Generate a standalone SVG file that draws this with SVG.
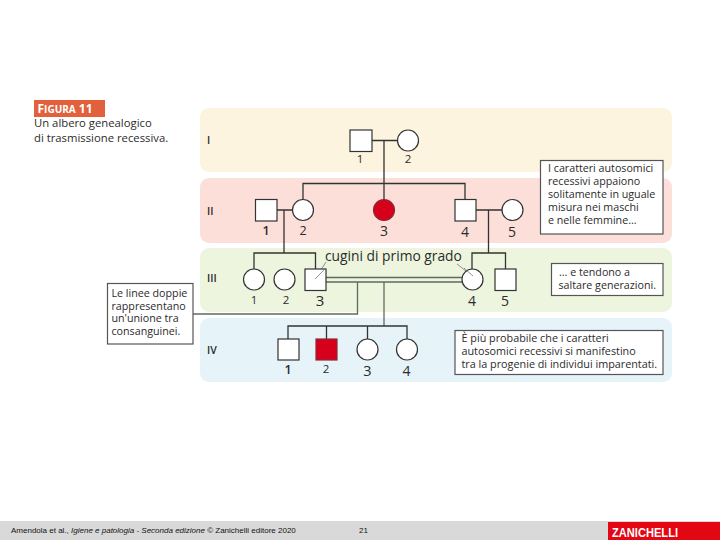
<svg xmlns="http://www.w3.org/2000/svg" width="720" height="540" viewBox="0 0 720 540">
<style>
text{font-family:"Open Sans","Noto Sans",sans-serif;fill:#2b2b2b}
.n{fill:#fff;stroke:#333;stroke-width:1.2}
.a{fill:#d6001c;stroke:#8a2a30;stroke-width:1.2}
.l{fill:none;stroke:#333;stroke-width:1.3}
.p{fill:none;stroke:#777;stroke-width:.8}
.d{fill:none;stroke:#5f6b62;stroke-width:1.3}
.b{fill:#fff;stroke:#555;stroke-width:1.2}
.t{font-size:10.7px}
.c{font-size:10.8px}
.g{font-size:10.5px;font-weight:600}
.num{font-size:12.5px;text-anchor:middle}
.sm{font-size:11.5px;text-anchor:middle}
</style>
<rect width="720" height="540" fill="#fff"/>
<g id="bands">
<rect x="200" y="108" width="472" height="64" rx="9" fill="#fdf4e0"/>
<rect x="200" y="178" width="472" height="65" rx="9" fill="#fddfda"/>
<rect x="200" y="248" width="472" height="64" rx="9" fill="#eef5df"/>
<rect x="200" y="318" width="472" height="64" rx="9" fill="#e6f4fa"/>
<text class="g" x="207" y="144">I</text>
<text class="g" x="207" y="215">II</text>
<text class="g" x="207" y="282">III</text>
<text class="g" x="207" y="354">IV</text>
</g>
<g id="title">
<rect x="34" y="100" width="71" height="17" fill="#e2603c"/>
<text x="37.500" y="113" style="fill:#fff;font-weight:700;font-size:12px">F<tspan font-size="10">IGURA</tspan> 11</text>
<text x="34" y="127" style="font-size:11.300px">Un albero genealogico</text>
<text x="34" y="142" style="font-size:11.300px">di trasmissione recessiva.</text>
</g>
<g id="connectors">
<path class="p" d="M326 262L315 279M457 264L471 275"/>
<path class="l" d="M372 140.500H397.500M384 140.500V199.500M303 199.500V183.500H465V199M277 210H292.500M284 210V253M476 210H502M488.500 210V253M254 269V253H315.500V269M472 269V253H505.500V269"/>
<path class="d" d="M326 277.500H462M326 282H462"/>
<path class="d" d="M384 282V326"/>
<path class="l" d="M288 339V326H407V339M326.500 326V339M367.500 326V339"/>
<path class="d" d="M193 314H357.500V282"/>
</g>
<g id="I-1"><rect class="n" x="350" y="130" width="22" height="21.500"/><text class="sm" x="360" y="163">1</text></g>
<g id="I-2"><circle class="n" cx="408" cy="140.500" r="10.500"/><text class="sm" x="408" y="163">2</text></g>
<g id="II-1"><rect class="n" x="255.500" y="199.500" width="21.500" height="21.500"/><text class="num" x="266" y="235" style="font-weight:600">1</text></g>
<g id="II-2"><circle class="n" cx="303" cy="210" r="10.500"/><text class="num" x="303" y="235">2</text></g>
<g id="II-3"><circle class="a" cx="384" cy="210" r="10.500"/><text class="num" x="384" y="236" style="font-size:14px">3</text></g>
<g id="II-4"><rect class="n" x="455" y="199.500" width="21" height="21.500"/><text class="num" x="465" y="237" style="font-size:14px">4</text></g>
<g id="II-5"><circle class="n" cx="512.500" cy="210" r="10.500"/><text class="num" x="512" y="237" style="font-size:14px">5</text></g>
<text x="325" y="261" style="font-size:13.800px">cugini di primo grado</text>
<g id="III-1"><circle class="n" cx="254" cy="279.500" r="10.500"/><text class="sm" x="254" y="304">1</text></g>
<g id="III-2"><circle class="n" cx="284.500" cy="279.500" r="10.500"/><text class="sm" x="286" y="304">2</text></g>
<g id="III-3"><rect class="n" x="305" y="269" width="21" height="21.500"/><text class="num" x="320" y="306" style="font-size:15px">3</text></g>
<g id="III-4"><circle class="n" cx="472.500" cy="279.500" r="10.500"/><text class="num" x="472" y="306" style="font-size:14px">4</text></g>
<g id="III-5"><rect class="n" x="495" y="269" width="21" height="21.500"/><text class="num" x="505" y="306" style="font-size:14px">5</text></g>
<g id="IV-1"><rect class="n" x="278" y="339" width="21" height="21"/><text class="num" x="288" y="374" style="font-weight:600">1</text></g>
<g id="IV-2"><rect class="a" x="316" y="339" width="21" height="21"/><text class="sm" x="326" y="373">2</text></g>
<g id="IV-3"><circle class="n" cx="367.500" cy="349.500" r="10.500"/><text class="num" x="367.500" y="376" style="font-size:14.500px">3</text></g>
<g id="IV-4"><circle class="n" cx="407" cy="349.500" r="10.500"/><text class="num" x="406.500" y="376" style="font-size:14px">4</text></g>
<path class="p" d="M315 279L326 268M464 268L473 276"/>
<g id="note-autosomici"><rect class="b" x="540.500" y="160.500" width="122.500" height="73.500"/>
<text class="t" x="548" y="172">I caratteri autosomici</text>
<text class="t" x="548" y="185">recessivi appaiono</text>
<text class="t" x="548" y="198">solitamente in uguale</text>
<text class="t" x="548" y="211">misura nei maschi</text>
<text class="t" x="548" y="224">e nelle femmine...</text></g>
<g id="note-generazioni"><rect class="b" x="551.500" y="263.500" width="111.500" height="32"/>
<text class="t" x="559" y="276">... e tendono a</text>
<text class="t" x="558.500" y="288.500">saltare generazioni.</text></g>
<g id="note-progenie"><rect class="b" x="455" y="330.500" width="208" height="44"/>
<text class="c" x="461.500" y="342">È più probabile che i caratteri</text>
<text class="c" x="461.500" y="355">autosomici recessivi si manifestino</text>
<text class="c" x="461.500" y="368">tra la progenie di individui imparentati.</text></g>
<g id="note-doppie"><rect class="b" x="107.500" y="283.500" width="85.500" height="60.500"/>
<text class="t" x="111.500" y="297">Le linee doppie</text>
<text class="t" x="111.500" y="309.500">rappresentano</text>
<text class="t" x="111.500" y="322">un'unione tra</text>
<text class="t" x="111.500" y="335">consanguinei.</text></g>
<g id="footer">
<rect x="0" y="521" width="720" height="19" fill="#d9d9d9"/>
<text x="11" y="533" style="font-family:'Liberation Sans',Arial,sans-serif;font-size:8px;fill:#111">Amendola et al., <tspan font-style="italic">Igiene e patologia - Seconda edizione</tspan> © Zanichelli editore 2020</text>
<text x="359" y="533" style="font-family:'Liberation Sans',Arial,sans-serif;font-size:8px;fill:#111">21</text>
<rect x="608" y="522" width="112" height="18" fill="#e30613"/>
<text x="612" y="537" textLength="66" lengthAdjust="spacingAndGlyphs" style="font-family:'Liberation Sans',Arial,sans-serif;font-size:13.500px;font-weight:700;fill:#fff">ZANICHELLI</text>
</g>
</svg>
